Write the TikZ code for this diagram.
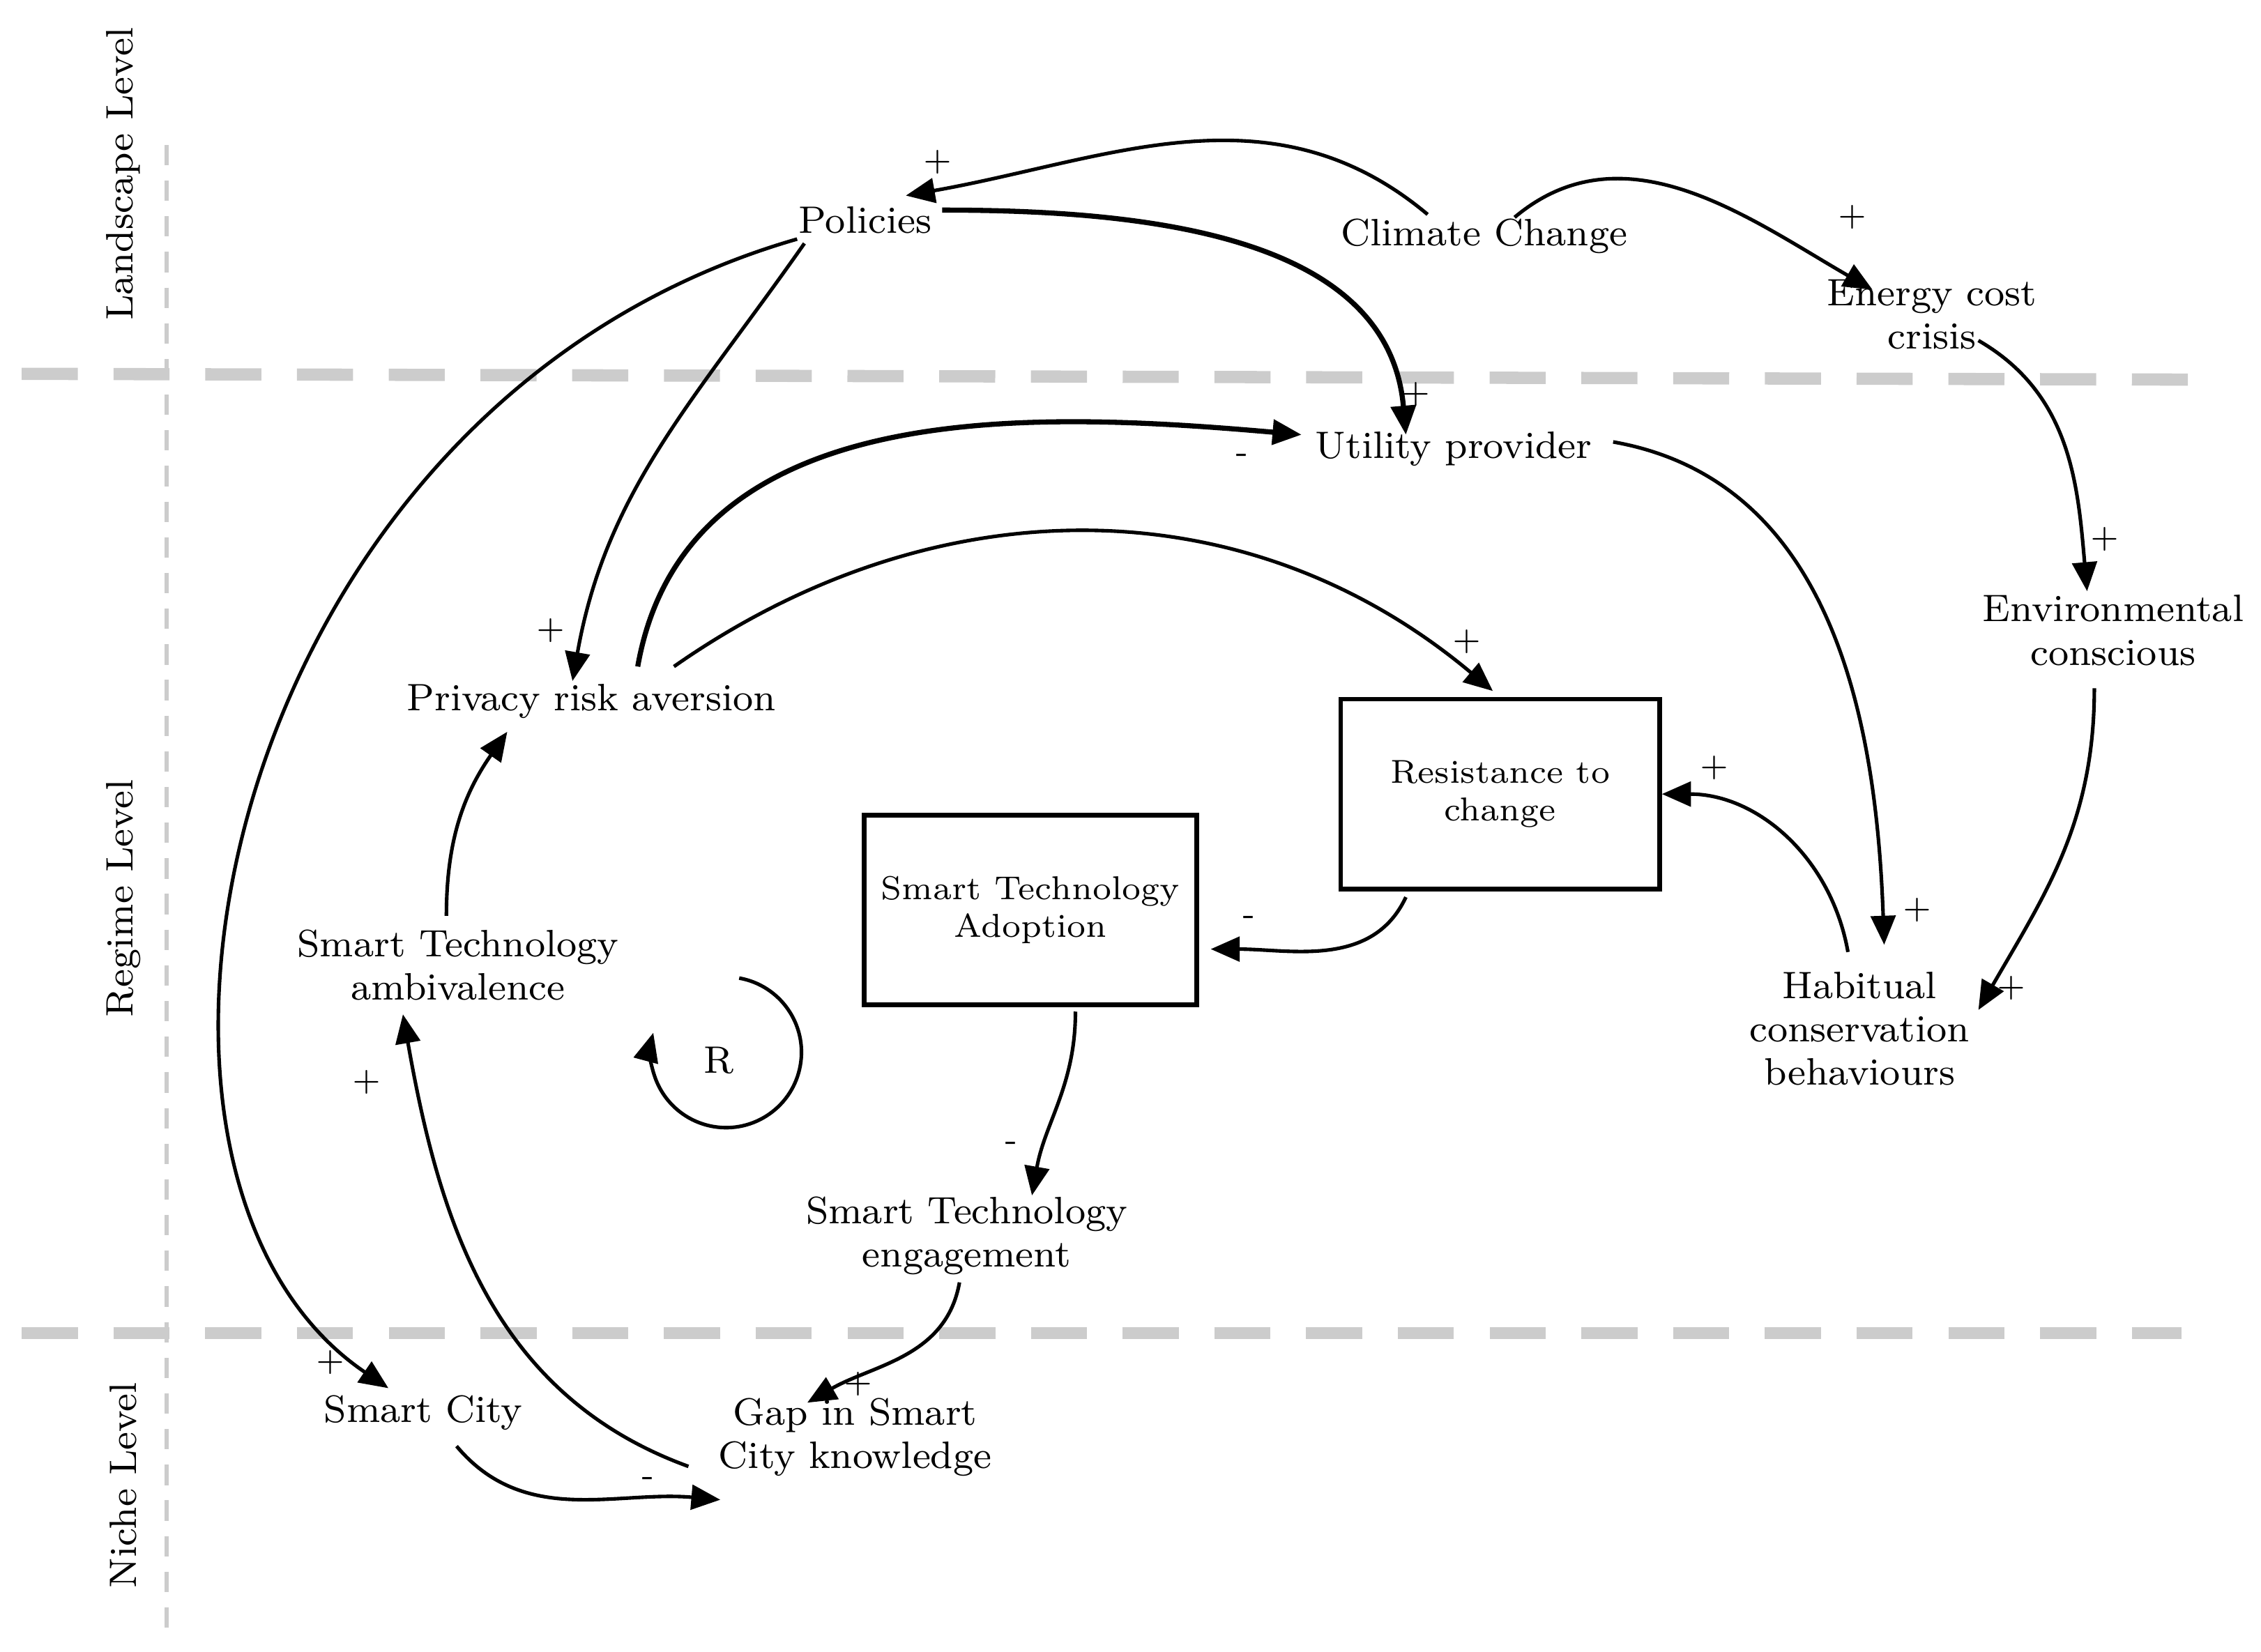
\documentclass[tikz,border=0pt]{standalone}
\usetikzlibrary{arrows.meta,calc}
\begin{document}
\begin{tikzpicture}[x=0.01cm,y=0.01cm,
  lbl/.style={font=\fontsize{7.5}{8.5}\selectfont,align=center,inner sep=1pt},
  box/.style={draw,line width=0.9pt,minimum width=2.2cm,minimum height=1.31cm,align=center,font=\fontsize{6.5}{7.5}\selectfont},
  sgn/.style={font=\fontsize{6}{7}\selectfont,inner sep=0pt},
  con/.style={line width=0.7pt,-{Triangle[length=0.2cm,width=0.17cm]}},
  lev/.style={rotate=90,font=\fontsize{7.5}{8.5}\selectfont}]
\useasboundingbox (0,0) rectangle (1560,1140);
% level separators
\draw[gray!40,line width=0.9pt,dash pattern=on 4pt off 3pt] (115,1040) -- (115,10);
\draw[gray!40,line width=2.4pt,dash pattern=on 11pt off 7pt] (15,882) -- (1515,878);
\draw[gray!40,line width=2.4pt,dash pattern=on 11pt off 7pt] (15,220) -- (1505,220);
\node[lev] (L1) at (85,1020) {Landscape Level};
\node[lev] (L2) at (85,520) {Regime Level};
\node[lev] (L3) at (85,115) {Niche Level};
% nodes
\node[lbl] (Pol) at (597,988) {Policies};
\node[lbl] (CC) at (1024,977) {Climate Change};
\node[lbl] (EC) at (1333,923) {Energy cost\\crisis};
\node[lbl] (UP) at (1003,830) {Utility provider};
\node[lbl] (EN) at (1458,705) {Environmental\\conscious};
\node[lbl] (PR) at (408,656) {Privacy risk aversion};
\node[box] (RC) at (1035,592) {Resistance to\\change};
\node[box] (AD) at (711,512) {Smart Technology\\Adoption};
\node[lbl] (AM) at (316,474) {Smart Technology\\ambivalence};
\node[lbl] (HB) at (1283,430) {Habitual\\conservation\\behaviours};
\node[lbl] (R) at (496,408) {R};
\node[lbl] (EG) at (667,287) {Smart Technology\\engagement};
\node[lbl] (SC) at (292,165) {Smart City};
\node[lbl] (GP) at (590,148) {Gap in Smart\\City knowledge};
% loop symbol
\draw[con] ($(R)+(14,57)$) arc[start angle=80,end angle=-195,radius=52];
% connectors
\draw[con] ($(CC)+(-39,15)$) to[out=140,in=10] ($(Pol)+(28,17)$);
\draw[con] ($(CC)+(21,13)$) to[out=40,in=150] ($(EC)+(-41,17)$);
\draw[con,line width=1pt] ($(Pol)+(53,7)$) to[out=0,in=95] ($(UP)+(-33,10)$);
\draw[con] ($(Pol)+(-42,-16)$) to[out=-125,in=80] ($(PR)+(-13,14)$);
\draw[con] ($(Pol)+(-47,-13)$) .. controls (150,860) and (50,330) .. ($(SC)+(-24,17)$);
\draw[con,line width=1pt] ($(PR)+(32,24)$) to[out=80,in=175] ($(UP)+(-105,10)$);
\draw[con] ($(PR)+(57,24)$) to[out=35,in=140] ($(RC.north)+(-5,4)$);
\draw[con] ($(UP)+(110,5)$) to[out=-10,in=92] ($(HB)+(17,58)$);
\draw[con] ($(EC)+(32,-18)$) to[out=-30,in=95] ($(EN)+(-18,27)$);
\draw[con] ($(EN)+(-13,-40)$) to[out=-90,in=60] ($(HB)+(82,13)$);
\draw[con] ($(HB)+(-8,53)$) to[out=100,in=0] (RC.east);
\draw[con] ($(RC.south)+(-65,-4)$) to[out=-115,in=0] ($(AD.east)+(8,-27)$);
\draw[con] ($(AD.south)+(31,-3)$) to[out=-90,in=80] ($(EG)+(45,28)$);
\draw[con] ($(EG)+(-5,-32)$) to[out=-100,in=30] ($(GP)+(-33,24)$);
\draw[con] ($(SC)+(23,-23)$) to[out=-50,in=175] ($(GP)+(-93,-43)$);
\draw[con] ($(GP)+(-115,-20)$) to[out=160,in=-80] ($(AM)+(-38,-34)$);
\draw[con] ($(AM)+(-8,34)$) to[out=90,in=-125] ($(PR)+(-58,-21)$);
% polarity signs
\node[sgn] (s1) at (647,1028) {+};
\node[sgn] (s2) at (1278,990) {+};
\node[sgn] (s3) at (977,868) {+};
\node[sgn] (s4) at (380,705) {+};
\node[sgn] (s5) at (228,200) {+};
\node[sgn] (s6) at (857,824) {-};
\node[sgn] (s7) at (1012,697) {+};
\node[sgn] (s8) at (1323,512) {+};
\node[sgn] (s9) at (1452,768) {+};
\node[sgn] (s10) at (1388,458) {+};
\node[sgn] (s11) at (1183,610) {+};
\node[sgn] (s12) at (862,505) {-};
\node[sgn] (s13) at (698,349) {-};
\node[sgn] (s14) at (592,185) {+};
\node[sgn] (s15) at (447,118) {-};
\node[sgn] (s16) at (253,393) {+};
\end{tikzpicture}
\end{document}
